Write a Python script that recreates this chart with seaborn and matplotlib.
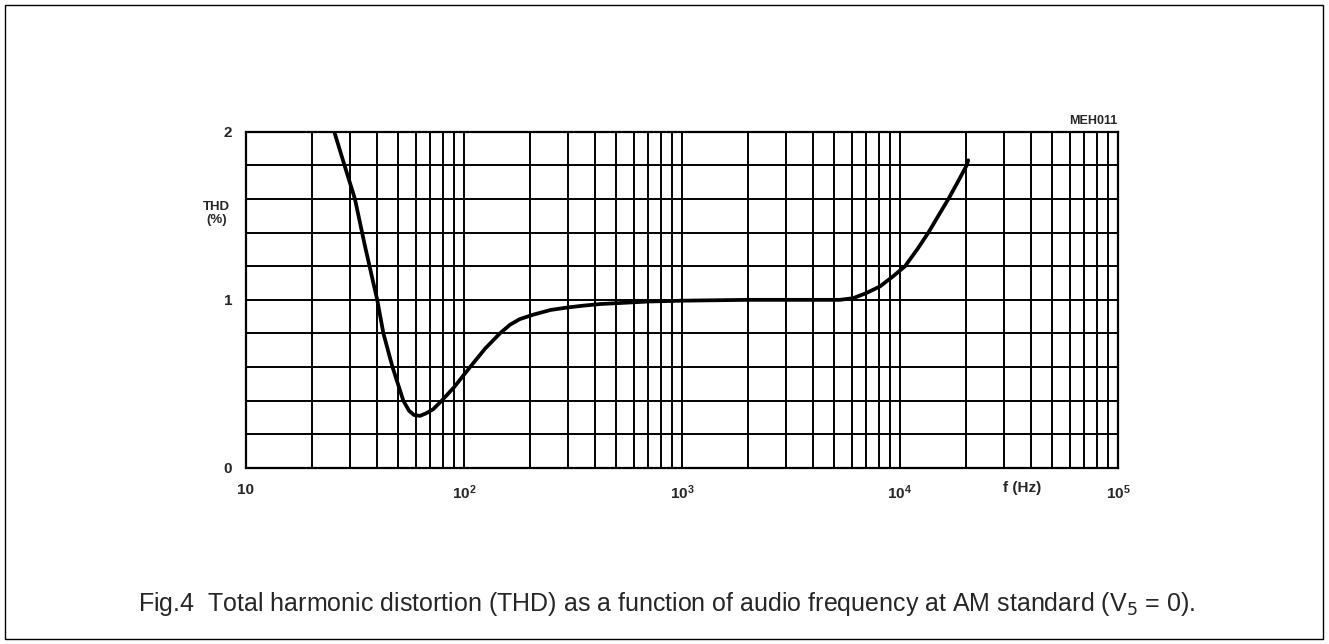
import numpy as np
import pandas as pd
import matplotlib
matplotlib.use("Agg")
import matplotlib.pyplot as plt
import matplotlib.patches as patches
import seaborn as sns

# values
freq_hz = [25.4, 28, 31.6, 35, 38.4, 40, 42.7, 47, 52.7, 56, 59, 62.8, 67, 72.3, 79,
           90, 106.6, 125, 146, 162.6, 180, 208, 250, 300, 350, 421, 700, 1000, 2000,
           3000, 4500, 5300, 6100, 7000, 8100, 9300, 10550, 12000, 13500, 15000,
           16680, 18400, 20230, 20560]
thd_pct = [2.0, 1.82, 1.6, 1.33, 1.1, 1.0, 0.8, 0.6, 0.4, 0.34, 0.315, 0.31, 0.325, 0.35, 0.4,
           0.48, 0.6, 0.71, 0.8, 0.852, 0.885, 0.912, 0.94, 0.955, 0.965, 0.975, 0.99, 0.995, 1.0,
           1.0, 1.0, 1.0, 1.01, 1.04, 1.08, 1.14, 1.2, 1.3, 1.4, 1.5,
           1.6, 1.7, 1.8, 1.83]
x_ticks = [10, 100, 1000, 10000, 100000]
x_ticklabels = ["10", "$10^2$", "$10^3$", "$10^4$", "$10^5$"]
y_ticks = [0, 1, 2]

df = pd.DataFrame({"f": freq_hz, "thd": thd_pct})

sns.set_style("white")
plt.rcParams["font.family"] = ["Liberation Sans", "DejaVu Sans"]
plt.rcParams["mathtext.fontset"] = "custom"
plt.rcParams["mathtext.rm"] = "Liberation Sans:bold"
plt.rcParams["mathtext.it"] = "Liberation Sans:bold"
plt.rcParams["mathtext.sf"] = "Liberation Sans:bold"

fig = plt.figure(figsize=(13.29, 6.44), dpi=100)
ax = fig.add_axes([0.1851, 0.2733, 0.6561, 0.5222])

# grid: decades with 2..9 subdivisions, 0.2 steps on y
xs = [m * 10 ** d for d in range(1, 5) for m in range(1, 10)] + [100000]
for v in xs:
    ax.axvline(v, color="black", lw=1.4, zorder=1)
for v in np.arange(0.2, 2.0, 0.2):
    ax.axhline(v, color="black", lw=1.4, zorder=1)

sns.lineplot(data=df, x="f", y="thd", ax=ax, color="black", lw=2.7, sort=False, zorder=3)

ax.set_xscale("log")
ax.set_xlim(10, 100000)
ax.set_ylim(0, 2)
ax.set_xticks(x_ticks)
ax.set_xticklabels(x_ticklabels, fontsize=11, fontweight="bold")
ax.minorticks_off()
ax.set_yticks(y_ticks)
ax.set_yticklabels([str(v) for v in y_ticks], fontsize=11, fontweight="bold")
ax.tick_params(axis="x", length=0, pad=11)
ax.tick_params(axis="y", length=0, pad=10)
ax.set_xlabel("")
ax.set_ylabel("")
for s in ax.spines.values():
    s.set_color("black")
    s.set_linewidth(1.6)

ax.text(36300, -0.12, "f (Hz)", ha="center", va="center", fontsize=11, fontweight="bold")
fig.text(216 / 1329, 1 - 207 / 644, "THD", ha="center", va="center", fontsize=9.5, fontweight="bold")
fig.text(217 / 1329, 1 - 220 / 644, "(%)", ha="center", va="center", fontsize=9.5, fontweight="bold")
fig.text(1117 / 1329, 1 - 121 / 644, "MEH011", ha="right", va="center", fontsize=9, fontweight="bold")

fig.text(138 / 1329, 1 - 611 / 644,
         "Fig.4  Total harmonic distortion (THD) as a function of audio frequency at AM standard (V$_5$ = 0).",
         ha="left", va="baseline", fontsize=18,
         math_fontfamily="dejavusans")

fig.patches.append(patches.Rectangle((5 / 1329, 5 / 644), 1318 / 1329, 634 / 644,
                                     transform=fig.transFigure, fill=False,
                                     edgecolor="black", lw=1.0))

fig.savefig("out.png", dpi=100)
